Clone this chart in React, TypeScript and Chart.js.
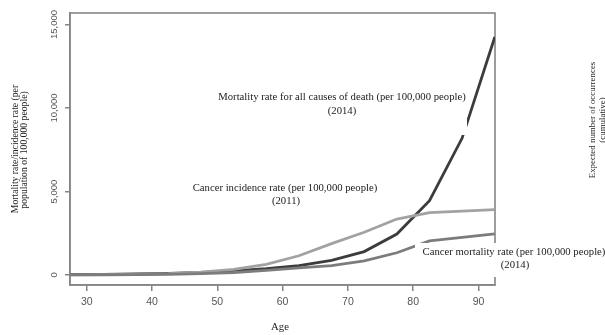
import { useEffect, useRef } from "react";
import { Chart, registerables } from "chart.js";

Chart.register(...registerables);

const ages = [27.5, 32.5, 37.5, 42.5, 47.5, 52.5, 57.5, 62.5, 67.5, 72.5, 77.5, 82.5, 87.5, 92.5];
const allCauseMortality = [30, 40, 60, 100, 160, 250, 380, 560, 880, 1400, 2450, 4450, 8200, 14250];
const cancerIncidence = [10, 20, 40, 80, 170, 330, 640, 1150, 1880, 2560, 3350, 3730, 3820, 3910];
const cancerMortality = [5, 10, 20, 40, 80, 150, 270, 420, 560, 850, 1330, 2040, 2250, 2460];
const xTickValues = [30, 40, 50, 60, 70, 80, 90];
const yTickValues = [0, 5000, 10000, 15000];
const yTickLabels = ["0", "5,000", "10,000", "15,000"];

const SERIF = "'Liberation Serif', 'Times New Roman', serif";
const SANS = "'Liberation Sans', Arial, sans-serif";

function txt(ctx: CanvasRenderingContext2D, s: string, x: number, y: number, font: string, color: string, rot = 0) {
  ctx.save();
  ctx.translate(x, y);
  if (rot) ctx.rotate(rot);
  ctx.font = font;
  ctx.fillStyle = color;
  ctx.textAlign = "center";
  ctx.textBaseline = "middle";
  ctx.fillText(s, 0, 0);
  ctx.restore();
}

const decor = {
  id: "decor",
  beforeDatasetsDraw(chart: any) {
    const { ctx, chartArea: a } = chart;
    ctx.save();
    ctx.strokeStyle = "#858585";
    ctx.lineWidth = 1.6;
    ctx.strokeRect(a.left, a.top, a.right - a.left, a.bottom - a.top);
    ctx.restore();
  },
  afterDatasetsDraw(chart: any) {
    const { ctx } = chart;
    const y = chart.scales.y;
    ctx.save();
    ctx.fillStyle = "#ffffff";
    ctx.fillRect(213, 86, 254, 49);
    ctx.fillRect(415, 243, 190, 34);
    ctx.restore();
    const ink = "#222222";
    const f1 = `10.7px ${SERIF}`;
    txt(ctx, "Mortality rate for all causes of death (per 100,000 people)", 342, 97, f1, ink);
    txt(ctx, "(2014)", 342, 111, f1, ink);
    txt(ctx, "Cancer incidence rate (per 100,000 people)", 285, 188, f1, ink);
    txt(ctx, "(2011)", 286, 201, f1, ink);
    txt(ctx, "Cancer mortality rate (per 100,000 people)", 514, 252, f1, ink);
    txt(ctx, "(2014)", 515, 265, f1, ink);
    txt(ctx, "Age", 280, 327, f1, ink);
    const f2 = `9.7px ${SERIF}`;
    txt(ctx, "Mortality rate/incidence rate (per", 15, 149, f2, ink, -Math.PI / 2);
    txt(ctx, "population of 100,000 people)", 24, 150, f2, ink, -Math.PI / 2);
    const f3 = `8.9px ${SERIF}`;
    txt(ctx, "Expected number of occurrences", 593, 120, f3, ink, -Math.PI / 2);
    txt(ctx, "(cumulative)", 603, 120, f3, ink, -Math.PI / 2);
    const f4 = `9.5px ${SANS}`;
    yTickValues.forEach((v, i) => {
      txt(ctx, yTickLabels[i], 54, y.getPixelForValue(v), f4, "#555555", -Math.PI / 2);
    });
  },
};

export default function App() {
  const ref = useRef<HTMLCanvasElement | null>(null);
  useEffect(() => {
    if (!ref.current) return;
    const mk = (data: number[], color: string) => ({
      data: ages.map((a, i) => ({ x: a, y: data[i] })),
      borderColor: color,
      borderWidth: 2.8,
      pointRadius: 0,
      tension: 0,
      fill: false,
    });
    const chart = new Chart(ref.current, {
      type: "line",
      data: {
        datasets: [
          mk(cancerMortality, "#7c7c7c"),
          mk(cancerIncidence, "#a2a2a2"),
          mk(allCauseMortality, "#3c3c3c"),
        ],
      },
      options: {
        animation: false,
        responsive: false,
        devicePixelRatio: 1,
        layout: { padding: { left: 0, top: 13, right: 110, bottom: 0 } },
        plugins: { legend: { display: false }, tooltip: { enabled: false } },
        scales: {
          x: {
            type: "linear",
            min: 27.44,
            max: 92.53,
            afterBuildTicks: (s: any) => {
              s.ticks = xTickValues.map((v) => ({ value: v }));
            },
            afterFit: (s: any) => {
              s.height = 50;
            },
            grid: { drawOnChartArea: false, drawTicks: true, tickLength: 6, color: "#858585", lineWidth: 1.5 },
            border: { display: true, color: "#858585", width: 1.6 },
            ticks: { font: { family: SANS, size: 10.5 }, color: "#555555", padding: 5, maxRotation: 0 },
          },
          y: {
            type: "linear",
            min: -600,
            max: 15690,
            afterBuildTicks: (s: any) => {
              s.ticks = yTickValues.map((v) => ({ value: v }));
            },
            afterFit: (s: any) => {
              s.width = 70;
            },
            grid: { drawOnChartArea: false, drawTicks: true, tickLength: 5, color: "#858585", lineWidth: 1.5 },
            border: { display: true, color: "#858585", width: 1.6 },
            ticks: { display: false },
          },
        },
      },
      plugins: [decor],
    } as any);
    return () => chart.destroy();
  }, []);
  return (
    <div style={{ position: "fixed", left: 0, top: 0, width: 605, height: 335, background: "#fff" }}>
      <canvas ref={ref} width={605} height={335} style={{ display: "block" }} />
    </div>
  );
}
